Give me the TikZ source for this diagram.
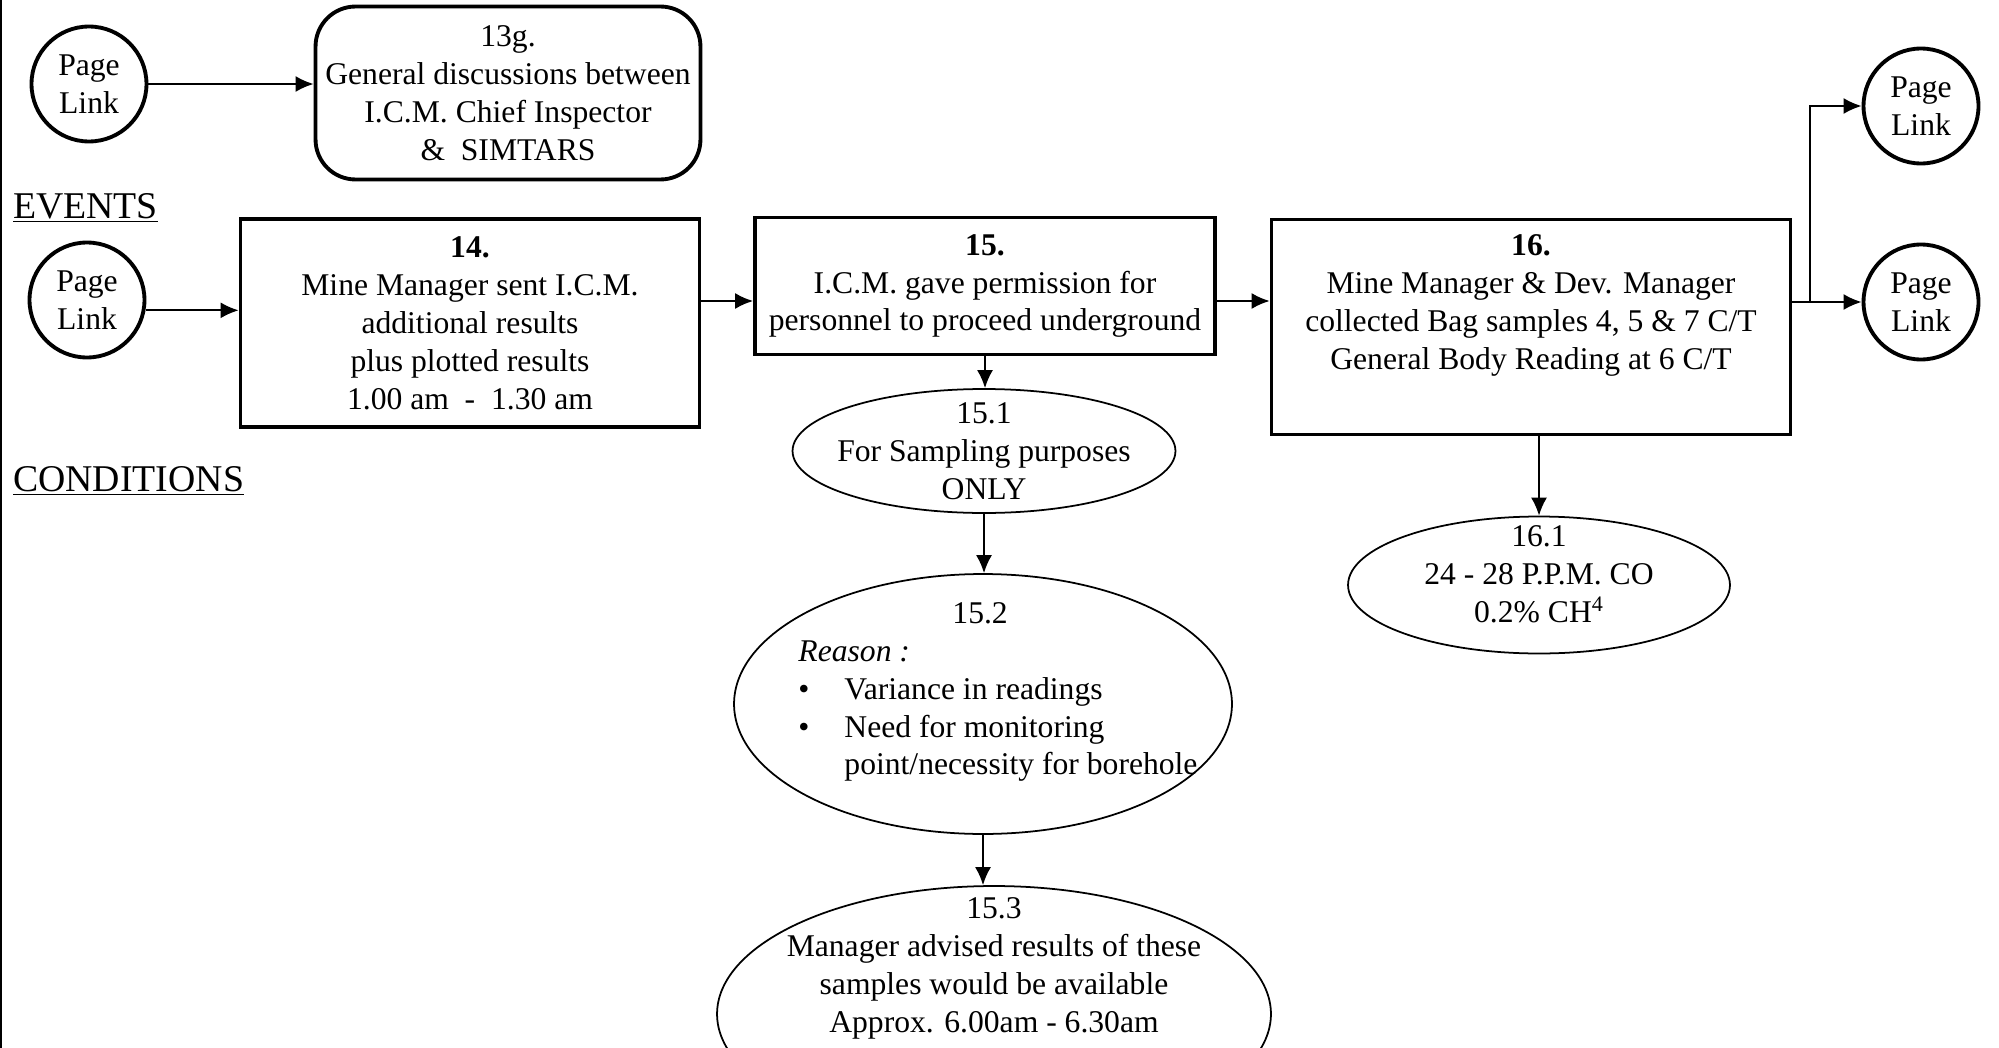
\documentclass[tikz,border=0pt]{standalone}
\usepackage{fontspec}
\setmainfont{Liberation Serif}
\usetikzlibrary{arrows.meta,shapes.geometric}

\begin{document}
\begin{tikzpicture}[
  x=0.02cm, y=-0.02cm,
  font=\fontsize{18}{21.6}\selectfont, >={Latex[length=3.6mm,width=3.2mm]},
  link/.style={draw, circle, line width=2.2pt, align=center, inner sep=1pt, minimum size=2.3cm},
  event/.style={draw, line width=2.2pt, align=center, inner sep=2pt},
  talk/.style={event, rounded corners=0.8cm},
  cond/.style={draw, ellipse, line width=1pt, inner sep=0pt},
  txt/.style={align=center},
  head/.style={anchor=west, font=\fontsize{21.5}{24}\selectfont},
  wire/.style={->, line width=1.1pt},
]
\useasboundingbox (0,0) rectangle (1999,1048);
\draw[line width=1pt] (1,0) -- (1,1048);
% top row
\node[link] (pl1) at (89,84) {Page\\Link};
\node[talk, minimum width=7.7cm, minimum height=3.46cm] (b13g) at (508,93) {13g.\\General discussions between\\I.C.M. Chief Inspector\\\&\ \ SIMTARS};
\draw[wire] (pl1) -- (pl1 -| b13g.west);
\node[head] (hev) at (7,208) {\underline{EVENTS}};
\node[head] (hcond) at (7,481) {\underline{CONDITIONS}};
% events
\node[link] (pl2) at (87,300) {Page\\Link};
\node[event, minimum width=9.18cm, minimum height=4.16cm] (b14) at (470,323) {\textbf{14.}\\Mine Manager sent I.C.M.\\additional results\\plus plotted results\\1.00 am~ -~ 1.30 am};
\node[event, minimum width=9.2cm, minimum height=2.74cm] (b15) at (985,286) {\textbf{15.}\\I.C.M. gave permission for\\personnel to proceed underground};
\node[event, minimum width=10.38cm, minimum height=4.3cm] (b16) at (1531,327) {\textbf{16.}\\Mine Manager \& Dev. Manager\\collected Bag samples 4, 5 \& 7 C/T\\General Body Reading at 6 C/T\\ \strut};
\node[link] (pl3) at (1921,106) {Page\\Link};
\node[link] (pl4) at (1921,302) {Page\\Link};
\draw[wire] (pl2.-10) -- (pl2.-10 -| b14.west);
\coordinate (j1) at ([yshift=-0.3cm]b15.west);
\coordinate (j2) at ([yshift=-0.3cm]b15.east);
\draw[wire] (b14.east |- j1) -- (j1);
\draw[wire] (j2) -- (j2 -| b16.west);
\coordinate (fork) at ([xshift=0.36cm]b16.east |- pl4);
\draw[wire] (b16.east |- pl4) -- (pl4);
\draw[wire] (fork) |- (pl3);
% conditions
\node[cond, minimum width=7.66cm, minimum height=2.48cm, label={[txt]center:{15.1\\For Sampling purposes\\ONLY}}] (e151) at (984,451) {};
\node[cond, minimum width=9.96cm, minimum height=5.2cm, label={[align=left, xshift=0.3cm, yshift=0.24cm]center:{\hspace*{3.08cm}15.2\\\textit{Reason :}\\\makebox[0.92cm][l]{\textbullet}Variance in readings\\\makebox[0.92cm][l]{\textbullet}Need for monitoring\\\hspace*{0.92cm}point/necessity for borehole}}] (e152) at (983,704) {};
\node[cond, minimum width=11.08cm, minimum height=5.12cm, label={[txt, yshift=0.92cm]center:{15.3\\Manager advised results of these\\samples would be available\\Approx. 6.00am - 6.30am}}] (e153) at (994,1014) {};
\node[cond, minimum width=7.64cm, minimum height=2.74cm, label={[txt, yshift=0.22cm]center:{16.1\\24 - 28 P.P.M. CO\\0.2\% CH\textsuperscript{4}}}] (e161) at (1539,585) {};
\draw[wire] (b15.south) -- (b15.south |- e151.north);
\draw[wire] (e151.south) -- (e151.south |- e152.north);
\draw[wire] (e152.south) -- (e152.south |- e153.north);
\draw[wire] (e161.north |- b16.south) -- (e161.north);
\end{tikzpicture}
\end{document}
